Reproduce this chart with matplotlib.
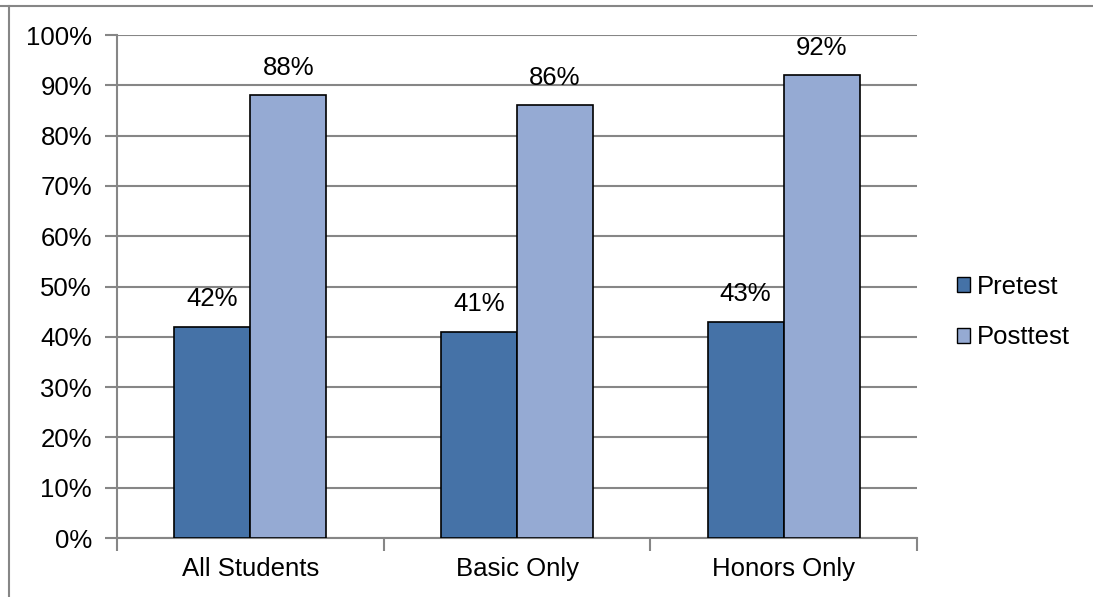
import matplotlib.pyplot as plt
import numpy as np
from matplotlib.lines import Line2D

plt.rcParams["font.family"] = ["Liberation Sans", "DejaVu Sans"]

categories = ["All Students", "Basic Only", "Honors Only"]
pretest = [42, 41, 43]
posttest = [88, 86, 92]
series_names = ["Pretest", "Posttest"]
colors = ["#4572A7", "#95AAD3"]
grid_color = "#868686"
fs = 18.5

fig = plt.figure(figsize=(10.93, 5.97), dpi=100)
ax = fig.add_axes([117 / 1093, 1 - 538 / 597, 800 / 1093, 503 / 597])

x = np.arange(len(categories))
width = 0.285
for offset, values, name, color in [(-width / 2, pretest, series_names[0], colors[0]),
                                    (width / 2, posttest, series_names[1], colors[1])]:
    bars = ax.bar(x + offset, values, width, color=color, edgecolor="black",
                  linewidth=1.2, label=name, zorder=3)
    for bar, val in zip(bars, values):
        ax.annotate(f"{val}%", (bar.get_x() + bar.get_width() / 2, val),
                    xytext=(0, 11), textcoords="offset points",
                    ha="center", va="bottom", fontsize=fs)

ax.set_xlim(-0.5, 2.5)
ax.set_ylim(0, 100)
ax.set_yticks(np.arange(0, 101, 10))
ax.set_yticklabels([f"{v}%" for v in range(0, 101, 10)], fontsize=fs)
ax.yaxis.grid(True, color=grid_color, linewidth=1.5, zorder=0)
ax.set_axisbelow(True)

ax.set_xticks(x)
ax.set_xticklabels(categories, fontsize=fs)
ax.tick_params(axis="x", length=0, pad=14)
ax.set_xticks(np.arange(-0.5, 2.6, 1), minor=True)
ax.tick_params(axis="x", which="minor", length=9, width=1.5, color=grid_color)
ax.tick_params(axis="y", length=9, width=1.5, color=grid_color, pad=9)

for side in ["top", "right"]:
    ax.spines[side].set_visible(False)
for side in ["left", "bottom"]:
    ax.spines[side].set_color(grid_color)
    ax.spines[side].set_linewidth(1.5)

leg = fig.legend(handles=[plt.Rectangle((0, 0), 1, 1, facecolor=c, edgecolor="black", linewidth=1)
                          for c in colors],
                 labels=series_names, loc="center left",
                 bbox_to_anchor=(934 / 1093, 1 - 312 / 597), frameon=False,
                 fontsize=fs, handlelength=0.5, handleheight=0.5,
                 handletextpad=0.25, labelspacing=1.05)

# outer chart frame (cropped)
fig.add_artist(Line2D([0, 1], [1 - 5.5 / 597] * 2, color=grid_color, linewidth=1.5,
                      transform=fig.transFigure))
fig.add_artist(Line2D([8.5 / 1093] * 2, [0, 1 - 5.5 / 597], color=grid_color, linewidth=1.5,
                      transform=fig.transFigure))

fig.savefig("out.png", dpi=100)
plt.close(fig)
